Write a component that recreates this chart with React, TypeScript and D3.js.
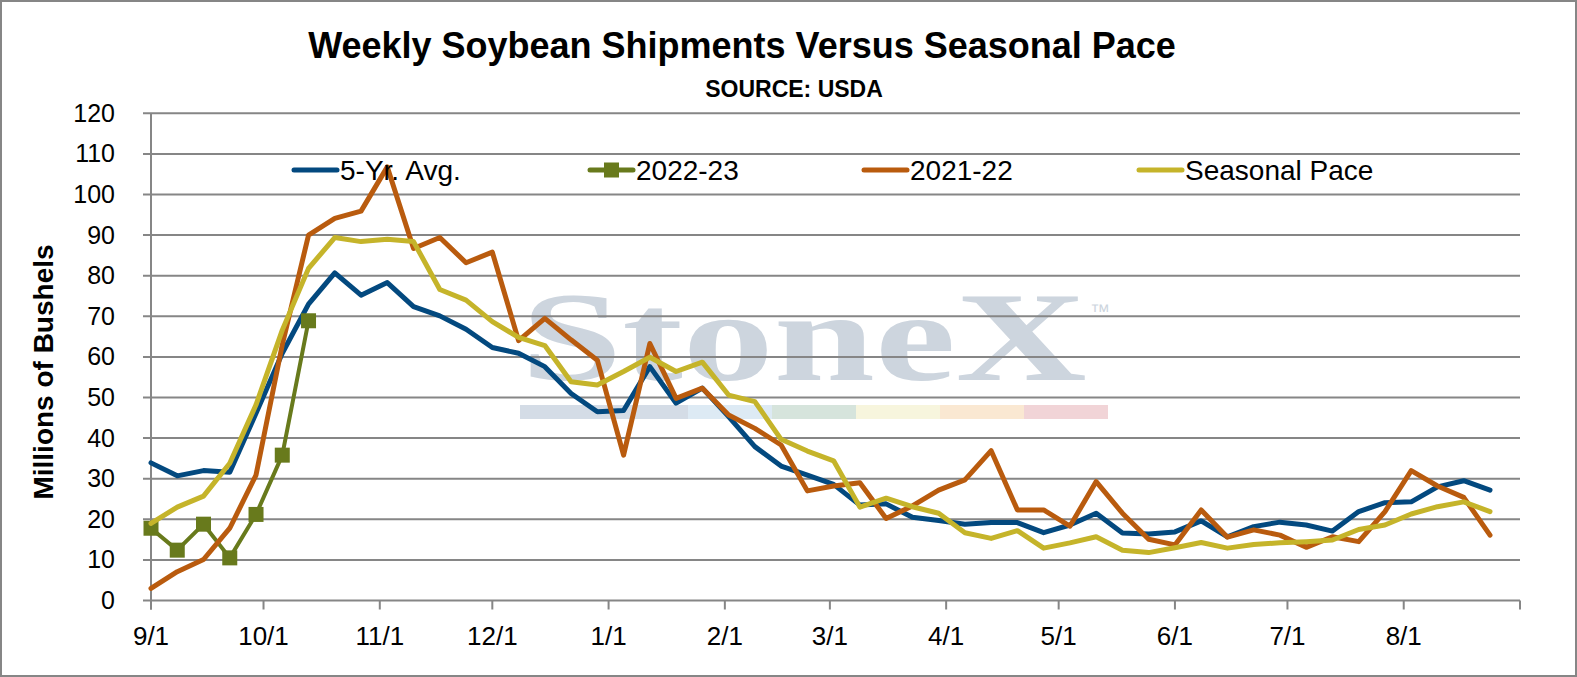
import { useEffect, useRef } from 'react';
import * as d3 from 'd3';

// Weekly values, millions of bushels, one per week starting 9/1
const fiveYrAvg = [
  33.9, 30.7, 32.0, 31.6, 46.1, 60.9, 73.0, 80.7, 75.2, 78.3,
  72.4, 70.1, 66.8, 62.3, 60.9, 57.6, 51.0, 46.5, 46.8, 57.6,
  48.6, 52.3, 45.3, 37.9, 33.1, 30.9, 28.6, 23.5, 23.8, 20.5,
  19.7, 18.8, 19.2, 19.2, 16.7, 18.6, 21.5, 16.6, 16.4, 16.9,
  19.6, 15.7, 18.2, 19.3, 18.6, 17.1, 21.9, 24.1, 24.3, 28.0,
  29.5, 27.2,
];
const season2022 = [17.8, 12.4, 18.8, 10.5, 21.2, 35.8, 68.9];
const season2021 = [
  3.0, 7.1, 10.1, 17.8, 30.9, 63.0, 90.0, 94.1, 95.9, 106.8,
  86.7, 89.4, 83.2, 85.8, 64.0, 69.5, 64.2, 59.2, 35.8, 63.3,
  49.8, 52.3, 45.7, 42.4, 38.3, 27.0, 28.2, 29.0, 20.2, 23.3,
  27.2, 29.7, 36.9, 22.3, 22.3, 18.3, 29.3, 21.5, 15.1, 13.7,
  22.3, 15.6, 17.4, 16.1, 13.1, 15.7, 14.5, 21.9, 32.0, 28.2,
  25.4, 16.1,
];
const seasonalPace = [
  19.0, 23.0, 25.7, 33.8, 48.2, 66.6, 81.8, 89.4, 88.4, 89.0,
  88.4, 76.6, 74.0, 68.7, 64.8, 62.8, 53.9, 53.1, 56.4, 59.9,
  56.4, 58.7, 50.6, 49.0, 39.7, 36.8, 34.4, 23.0, 25.2, 23.1,
  21.5, 16.7, 15.3, 17.2, 12.9, 14.2, 15.7, 12.4, 11.8, 13.0,
  14.3, 12.9, 13.8, 14.2, 14.5, 14.9, 17.5, 18.6, 21.3, 23.1,
  24.3, 21.9,
];

const yTickValues = [0, 10, 20, 30, 40, 50, 60, 70, 80, 90, 100, 110, 120];
const monthLabels = ['9/1', '10/1', '11/1', '12/1', '1/1', '2/1', '3/1', '4/1', '5/1', '6/1', '7/1', '8/1'];

const seriesNames = ['5-Yr. Avg.', '2022-23', '2021-22', 'Seasonal Pace'];
const seriesColors = ['#03497F', '#687A1C', '#B95B0E', '#C5B42A'];

const watermarkBars = ['#D4DCE6', '#DDEAF4', '#D6E4DC', '#F7F5DD', '#FAE8D2', '#F1D4D7'];

export default function App() {
  const svgRef = useRef<SVGSVGElement>(null);

  useEffect(() => {
    document.body.style.margin = '0';
    if (!svgRef.current) return;

    const width = 1577;
    const height = 677;
    const left = 151;
    const right = 1520;
    const top = 113.3;
    const bottom = 600.5;
    const font = '"Liberation Sans", Arial, sans-serif';

    const svg = d3.select(svgRef.current);
    svg.selectAll('*').remove();
    svg.attr('width', width).attr('height', height).attr('viewBox', `0 0 ${width} ${height}`);

    // frame
    svg.append('rect')
      .attr('x', 1).attr('y', 1)
      .attr('width', width - 2).attr('height', height - 2)
      .attr('fill', '#fff')
      .attr('stroke', '#868686')
      .attr('stroke-width', 2);

    const start = new Date(2022, 8, 1);
    const end = new Date(2023, 8, 1);
    const x = d3.scaleTime().domain([start, end]).range([left, right]);
    const y = d3.scaleLinear().domain([0, 120]).range([bottom, top]);
    const weekDate = (i: number) => d3.timeDay.offset(start, 7 * i);

    // === watermark ===
    const wm = svg.append('g');
    wm.append('text')
      .attr('x', 521)
      .attr('y', 380)
      .attr('font-family', '"Liberation Serif", "Times New Roman", serif')
      .attr('font-size', 126)
      .attr('font-weight', 'bold')
      .attr('fill', '#CDD5DE')
      .attr('textLength', 566)
      .attr('lengthAdjust', 'spacingAndGlyphs')
      .text('StoneX');
    wm.append('text')
      .attr('x', 1090)
      .attr('y', 318)
      .attr('font-family', font)
      .attr('font-size', 20)
      .attr('fill', '#CDD5DE')
      .text('™');
    const barX = d3.scaleLinear().domain([0, 7]).range([520, 1108]);
    watermarkBars.forEach((c, i) => {
      const a = i === 0 ? 0 : i + 1;
      const b = i + 2;
      wm.append('rect')
        .attr('x', barX(a)).attr('y', 405)
        .attr('width', barX(b) - barX(a)).attr('height', 14)
        .attr('fill', c);
    });

    // === grid and axes ===
    const axisColor = '#868686';
    yTickValues.forEach((v) => {
      svg.append('line')
        .attr('x1', left - 8).attr('x2', right)
        .attr('y1', y(v)).attr('y2', y(v))
        .attr('stroke', axisColor).attr('stroke-width', 2);
      svg.append('text')
        .attr('x', 115)
        .attr('y', y(v) + 8.5)
        .attr('text-anchor', 'end')
        .attr('font-family', font)
        .attr('font-size', 25)
        .attr('fill', '#000')
        .text(v);
    });

    svg.append('line')
      .attr('x1', left).attr('x2', left)
      .attr('y1', top).attr('y2', bottom + 9)
      .attr('stroke', axisColor).attr('stroke-width', 2);

    const months = d3.timeMonth.range(start, d3.timeDay.offset(end, 1));
    months.forEach((m, i) => {
      svg.append('line')
        .attr('x1', x(m)).attr('x2', x(m))
        .attr('y1', bottom).attr('y2', bottom + 9)
        .attr('stroke', axisColor).attr('stroke-width', 2);
      if (monthLabels[i]) {
        svg.append('text')
          .attr('x', x(m))
          .attr('y', 645)
          .attr('text-anchor', 'middle')
          .attr('font-family', font)
          .attr('font-size', 26)
          .attr('fill', '#000')
          .text(monthLabels[i]);
      }
    });

    // y axis title
    svg.append('text')
      .attr('transform', 'translate(53, 372) rotate(-90)')
      .attr('text-anchor', 'middle')
      .attr('font-family', font)
      .attr('font-size', 28)
      .attr('font-weight', 'bold')
      .attr('fill', '#000')
      .text('Millions of Bushels');

    // === series ===
    const line = d3.line<number>()
      .x((_, i) => x(weekDate(i)))
      .y((d) => y(d));

    const drawLine = (values: number[], color: string, w: number) => {
      svg.append('path')
        .attr('d', line(values))
        .attr('fill', 'none')
        .attr('stroke', color)
        .attr('stroke-width', w)
        .attr('stroke-linejoin', 'round')
        .attr('stroke-linecap', 'round');
    };

    drawLine(fiveYrAvg, seriesColors[0], 5);
    drawLine(season2022, seriesColors[1], 4);
    svg.append('g')
      .selectAll('rect')
      .data(season2022)
      .enter()
      .append('rect')
      .attr('x', (_, i) => x(weekDate(i)) - 7.5)
      .attr('y', (d) => y(d) - 7.5)
      .attr('width', 15)
      .attr('height', 15)
      .attr('fill', seriesColors[1]);
    drawLine(season2021, seriesColors[2], 5);
    drawLine(seasonalPace, seriesColors[3], 5);

    // === legend ===
    const legendX = [294, 590, 864, 1139];
    const legendY = 170;
    seriesNames.forEach((name, i) => {
      const lx = legendX[i];
      svg.append('line')
        .attr('x1', lx).attr('x2', lx + 43)
        .attr('y1', legendY).attr('y2', legendY)
        .attr('stroke', seriesColors[i])
        .attr('stroke-width', 5)
        .attr('stroke-linecap', 'round');
      if (i === 1) {
        svg.append('rect')
          .attr('x', lx + 21.5 - 7.5).attr('y', legendY - 7.5)
          .attr('width', 15).attr('height', 15)
          .attr('fill', seriesColors[1]);
      }
      svg.append('text')
        .attr('x', lx + 46)
        .attr('y', legendY + 10)
        .attr('font-family', font)
        .attr('font-size', 28)
        .attr('fill', '#000')
        .text(name);
    });

    // === titles ===
    svg.append('text')
      .attr('x', 742)
      .attr('y', 58)
      .attr('text-anchor', 'middle')
      .attr('font-family', font)
      .attr('font-size', 36)
      .attr('font-weight', 'bold')
      .attr('fill', '#000')
      .text('Weekly Soybean Shipments Versus Seasonal Pace');

    svg.append('text')
      .attr('x', 794)
      .attr('y', 97)
      .attr('text-anchor', 'middle')
      .attr('font-family', font)
      .attr('font-size', 23)
      .attr('font-weight', 'bold')
      .attr('fill', '#000')
      .text('SOURCE: USDA');
  }, []);

  return <svg ref={svgRef} style={{ display: 'block' }} />;
}
